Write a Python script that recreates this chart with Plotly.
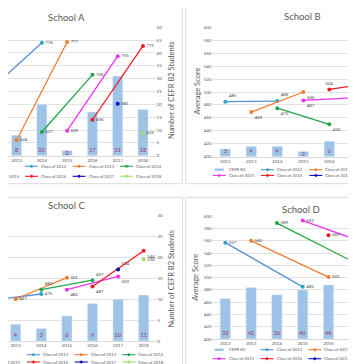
import plotly.graph_objects as go

# ---------------- data ----------------
years = [2012, 2013, 2014, 2015, 2016, 2017, 2018]
tick_years = [2012, 2013, 2014, 2015, 2016, 2017, 2018]
bar_name = "CEFR B2"
class_names = ["Class of 2012", "Class of 2013", "Class of 2014", "Class of 2015",
               "Class of 2016", "Class of 2017", "Class of 2018"]
school_titles = ["School A", "School B", "School C", "School D"]

# School A
a_b2 = [None, 8, 20, 2, 17, 31, 18]
a_c2012 = [704, None, 776, None, None, None, None]
a_c2013 = [None, 624, None, 777, None, None, None]
a_c2014 = [None, None, 637, None, 726, None, None]
a_c2015 = [None, None, None, 639, None, 755, None]
a_c2016 = [None, None, None, None, 656, None, 771]
a_c2017 = [None, None, None, None, None, 681, None]
a_c2018 = [None, None, None, None, None, None, 635]

# School B
b_b2 = [3, 4, 4, 2, 6, 9, None]
b_c2012 = [485, None, 486, None, None, None, None]
b_c2013 = [None, 469, None, 500, None, None, None]
b_c2014 = [None, None, 475, None, 450, None, None]
b_c2015 = [None, None, None, 487, None, 491, None]
b_c2016 = [None, None, None, None, 504, None, 516]
b_c2017 = [None, None, None, None, None, 522, None]
b_c2018 = [None, None, None, None, None, None, None]

# School C
c_b2 = [None, 4, 3, 6, 9, 10, 11]
c_c2012 = [465, None, 475, None, None, None, None]
c_c2013 = [None, 467, None, 501, None, None, None]
c_c2014 = [None, None, 482, None, 497, None, None]
c_c2015 = [None, None, None, 482, None, 503, None]
c_c2016 = [None, None, None, None, 487, None, 544]
c_c2017 = [None, None, None, None, None, 514, None]
c_c2018 = [None, None, None, None, None, None, 530]

# School D
d_b2 = [33, 42, 36, 40, 44, 50, None]
d_c2012 = [557, None, None, 485, None, None, None]
d_c2013 = [None, 560, None, None, 501, None, None]
d_c2014 = [None, None, 589, None, None, 525, None]
d_c2015 = [None, None, None, 593, None, None, 548]
d_c2016 = [None, None, None, None, 569, None, None]
d_c2017 = [None, None, None, None, None, 594, None]
d_c2018 = [None, None, None, None, None, None, None]

# ---------------- style ----------------
W, H = 356, 364
FONT = "Lato"
GREY = "#595959"
GRID = "#e2e2e2"
BORDER = "#d9d9d9"
BAR_COLOR = "#9dc3e6"
BAR_LABEL = "#a3306e"
line_colors = ["#5b8fd6", "#ed7d31", "#22a548", "#ee33ee", "#ee1c24", "#0a0ac8", "#9be36a"]
marker_colors = ["#26a6c9", "#ed7d31", "#22a548", "#ee33ee", "#ee1c24", "#0a0ac8", "#9be36a"]
LEG_FONT = 4.2
LEG_CHAR_W = 1.45  # approx px per character of legend text


def px_x(v):
    return v / W


def px_y(v):
    return 1 - v / H


panels = [
    dict(bars=a_b2, lines=[a_c2012, a_c2013, a_c2014, a_c2015, a_c2016, a_c2017, a_c2018],
         xdom=(0, 147.6), ydom=(19.3, 147.7), xr=(2012.66, 2018.5),
         bar_range=(0, 50), bar_dtick=5, score_range=(600, 800), score_dtick=20,
         bar_side_visible=True, score_side_visible=False,
         tpos=["middle right"] * 7,
         title=(58.5, 9.0), ytitle=("Number of CEFR B2 Students", 163.5, 82.5),
         legend=(-30.5, 47.5, 158.3, 168.3),
         border=(-10, -10, 174.3, 175.7)),
    dict(bars=b_b2, lines=[b_c2012, b_c2013, b_c2014, b_c2015, b_c2016, b_c2017, b_c2018],
         xdom=(204.3, 356), ydom=(19.3, 148.7), xr=(2011.5, 2017.335),
         bar_range=(0, 50), bar_dtick=5, score_range=(400, 600), score_dtick=20,
         bar_side_visible=False, score_side_visible=True,
         tpos=["top right", "bottom right", "bottom right", "bottom right",
               "top center", "middle right", "middle right"],
         title=(294.7, 8.3), ytitle=("Average Score", 189.0, 83.5),
         legend=(204.7, 48.3, 161.7, 167.4),
         border=(177.7, -10, 366, 175.7)),
    dict(bars=c_b2, lines=[c_c2012, c_c2013, c_c2014, c_c2015, c_c2016, c_c2017, c_c2018],
         xdom=(0, 148.5), ydom=(207.7, 333.0), xr=(2012.70, 2018.5),
         bar_range=(0, 30), bar_dtick=5, score_range=(400, 600), score_dtick=20,
         bar_side_visible=True, score_side_visible=False,
         tpos=["middle right", "middle right", "top right", "bottom right",
               "bottom right", "top right", "middle right"],
         title=(58.3, 197.7), ytitle=("Number of CEFR B2 Students", 163.3, 270.3),
         legend=(-28.7, 47.7, 346.7, 354.0),
         border=(-10, 189.3, 174.5, 359.5)),
    dict(bars=d_b2, lines=[d_c2012, d_c2013, d_c2014, d_c2015, d_c2016, d_c2017, d_c2018],
         xdom=(204.4, 356), ydom=(208.3, 331.0), xr=(2011.5, 2017.376),
         bar_range=(0, 100), bar_dtick=10, score_range=(400, 600), score_dtick=20,
         bar_side_visible=False, score_side_visible=True,
         tpos=["middle right"] * 7,
         title=(293.0, 201.3), ytitle=("Average Score", 188.0, 268.7),
         legend=(204.7, 47.8, 341.7, 350.7),
         border=(177.7, 189.3, 366, 359.5)),
]

fig = go.Figure()
layout = dict(
    width=W, height=H, margin=dict(l=0, r=0, t=0, b=0, autoexpand=False),
    paper_bgcolor="white", plot_bgcolor="white", showlegend=False,
    font=dict(family=FONT, color=GREY),
)
annotations = []
shapes = []

for i, p in enumerate(panels):
    xid = "x" if i == 0 else f"x{i + 1}"
    bar_n = 2 * i + 1
    score_n = 2 * i + 2
    bar_yid = "y" if bar_n == 1 else f"y{bar_n}"
    score_yid = f"y{score_n}"

    fig.add_trace(go.Bar(
        x=years, y=p["bars"], name=bar_name, marker_color=BAR_COLOR, width=0.4,
        text=p["bars"], textposition="inside", insidetextanchor="start",
        constraintext="none", textangle=0,
        textfont=dict(size=5.5, color=BAR_LABEL, family=FONT),
        xaxis=xid, yaxis=bar_yid, hoverinfo="skip"))

    for k, vals in enumerate(p["lines"]):
        fig.add_trace(go.Scatter(
            x=years, y=vals, name=class_names[k], mode="lines+markers+text",
            connectgaps=True, line=dict(color=line_colors[k], width=1.3),
            marker=dict(color=marker_colors[k], size=4),
            texttemplate="%{y}", textposition=p["tpos"][k], cliponaxis=True,
            textfont=dict(size=4.3, color="#404040", family=FONT),
            xaxis=xid, yaxis=score_yid, hoverinfo="skip"))

    xkey = "xaxis" if i == 0 else f"xaxis{i + 1}"
    bkey = "yaxis" if bar_n == 1 else f"yaxis{bar_n}"
    skey = f"yaxis{score_n}"
    layout[xkey] = dict(
        domain=[px_x(p["xdom"][0]), px_x(p["xdom"][1])], range=list(p["xr"]),
        anchor=bar_yid, tickmode="array", tickvals=tick_years,
        tickfont=dict(size=4.5, color=GREY), showgrid=False, zeroline=False,
        showline=True, linecolor=BORDER, linewidth=1, ticks="", fixedrange=True)
    layout[bkey] = dict(
        domain=[px_y(p["ydom"][1]), px_y(p["ydom"][0])], range=list(p["bar_range"]),
        dtick=p["bar_dtick"], anchor=xid, side="right", showgrid=True,
        gridcolor=GRID, gridwidth=0.8, zeroline=False, ticks="",
        showticklabels=p["bar_side_visible"], tickfont=dict(size=4.5, color=GREY),
        fixedrange=True)
    layout[skey] = dict(
        overlaying=bar_yid, anchor=xid, side="left", range=list(p["score_range"]),
        dtick=p["score_dtick"], showgrid=False, zeroline=False, ticks="",
        showticklabels=p["score_side_visible"], tickfont=dict(size=4.3, color=GREY),
        fixedrange=True)

    # chart title and axis title
    tx, ty = p["title"]
    annotations.append(dict(text=school_titles[i], x=px_x(tx), y=px_y(ty), xref="paper",
                            yref="paper", showarrow=False, xanchor="center", yanchor="middle",
                            font=dict(size=9.5, color=GREY, family=FONT)))
    at, ax_, ay_ = p["ytitle"]
    annotations.append(dict(text=at, x=px_x(ax_), y=px_y(ay_), xref="paper", yref="paper",
                            showarrow=False, textangle=-90, xanchor="center",
                            yanchor="middle", font=dict(size=7.5, color=GREY, family=FONT)))

    # chart border
    bx0, by0, bx1, by1 = p["border"]
    shapes.append(dict(type="rect", xref="paper", yref="paper", x0=px_x(bx0), x1=px_x(bx1),
                       y0=px_y(by1), y1=px_y(by0), line=dict(color=BORDER, width=1),
                       fillcolor="rgba(0,0,0,0)", layer="below"))

    # legend (Excel-style, two rows of four entries), cropped like the charts
    lx0, lsp, r1, r2 = p["legend"]
    entries = [(bar_name, BAR_COLOR, None)] + [
        (class_names[k], line_colors[k], marker_colors[k]) for k in range(7)]
    for j, (nm, lc, mc) in enumerate(entries):
        cx = lx0 + lsp * (j % 4)
        cy = r1 if j < 4 else r2
        text_x = cx + 14
        text_end = text_x + LEG_CHAR_W * len(nm)
        if cx + 13 > 0 and cx < W:
            if mc is None:
                shapes.append(dict(type="line", xref="paper", yref="paper",
                                   x0=px_x(cx + 2), x1=px_x(cx + 11), y0=px_y(cy), y1=px_y(cy),
                                   line=dict(color=lc, width=2.5)))
            else:
                shapes.append(dict(type="line", xref="paper", yref="paper",
                                   x0=px_x(cx), x1=px_x(cx + 13), y0=px_y(cy), y1=px_y(cy),
                                   line=dict(color=lc, width=1.1)))
                shapes.append(dict(type="circle", xref="paper", yref="paper",
                                   x0=px_x(cx + 5.3), x1=px_x(cx + 7.7),
                                   y0=px_y(cy + 1.2), y1=px_y(cy - 1.2),
                                   fillcolor=mc, line=dict(color=mc, width=0.5)))
        if text_end > 0.5 and text_x < W:
            annotations.append(dict(text=nm, x=px_x(text_x), y=px_y(cy), xref="paper",
                                    yref="paper", showarrow=False, xanchor="left",
                                    yanchor="middle",
                                    font=dict(size=LEG_FONT, color=GREY, family=FONT)))

layout["annotations"] = annotations
layout["shapes"] = shapes
fig.update_layout(**layout)
fig.write_html("out.html")
